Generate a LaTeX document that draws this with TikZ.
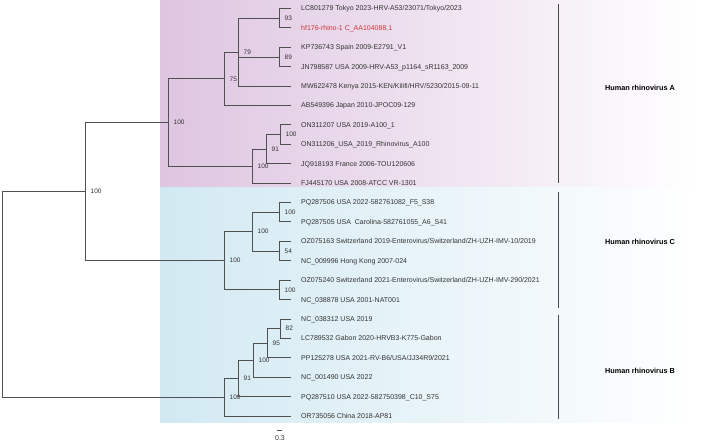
\documentclass[tikz,border=0pt]{standalone}
\usepackage{fontspec}
\setmainfont{Liberation Sans}
\definecolor{branchgray}{HTML}{505050}
\definecolor{leafgray}{HTML}{333333}
\definecolor{hfred}{HTML}{D0373B}
\definecolor{cladeApurple}{RGB}{222,197,225}
\definecolor{cladeCblue}{RGB}{210,233,242}
\tikzstyle{branch}=[draw=branchgray,line width=0.8pt]
\tikzstyle{tip}=[branch,shorten >=10pt]
\tikzstyle{leaf}=[anchor=west,inner sep=0pt,text height=5pt,text depth=0pt,font=\fontsize{7}{8}\selectfont,text=leafgray]
\tikzstyle{supp}=[anchor=west,inner sep=0pt,xshift=5.5pt,font=\fontsize{6.5}{7}\selectfont,text=leafgray]
\tikzstyle{clade}=[font=\bfseries\fontsize{7.3}{8}\selectfont,text=black]
\tikzstyle{bar}=[draw=branchgray!90!black,line width=0.8pt]

\begin{document}
\begin{tikzpicture}[x=1pt,y=-1pt]
  \useasboundingbox (0,0) rectangle (708,443);
  % clade backgrounds
  \shade[left color=cladeApurple,middle color=cladeApurple!70!white,right color=white] (160,0) rectangle (698,188);
  \shade[left color=cladeCblue,middle color=cladeCblue!70!white,right color=white] (160,188) rectangle (698,422);

  % internal nodes
  \coordinate (root) at (2,294.4);
  \coordinate (nAC) at (85,191.6);
  \coordinate (nA) at (168,122.5);
  \coordinate (n75) at (224,78.9);
  \coordinate (n79) at (238,52.2);
  \coordinate (n93) at (279,18.2);
  \coordinate (n89) at (279,57);
  \coordinate (n100b) at (252,166.1);
  \coordinate (n91a) at (266,149.2);
  \coordinate (n100c) at (280,134.6);
  \coordinate (nC) at (224,260.7);
  \coordinate (nC1) at (252,231.6);
  \coordinate (nPQ) at (279,212.2);
  \coordinate (n54) at (279,251);
  \coordinate (nOZ) at (279,289.8);
  \coordinate (nB) at (224,397.1);
  \coordinate (n91b) at (238,378.3);
  \coordinate (n100d) at (253,360.2);
  \coordinate (n95) at (267,343.2);
  \coordinate (n82) at (280,328.6);

  % support values
  \node[supp] at (nAC) {100};
  \node[supp] at (nA) {100};
  \node[supp] at (n75) {75};
  \node[supp] at (n79) {79};
  \node[supp] at (n93) {93};
  \node[supp] at (n89) {89};
  \node[supp] at (n100b) {100};
  \node[supp] at (n91a) {91};
  \node[supp] at (n100c) {100};
  \node[supp] at (nC) {100};
  \node[supp] at (nC1) {100};
  \node[supp] at (nPQ) {100};
  \node[supp] at (n54) {54};
  \node[supp] at (nOZ) {100};
  \node[supp] at (nB) {100};
  \node[supp] at (n91b) {91};
  \node[supp] at (n100d) {100};
  \node[supp] at (n95) {95};
  \node[supp] at (n82) {82};

  % leaves
  \node[leaf] (lc801279) at (301,8.5) {LC801279 Tokyo 2023-HRV-A53/23071/Tokyo/2023};
  \node[leaf,text=hfred] (hf176) at (301,27.9) {hf176-rhino-1 C\_AA104088.1};
  \node[leaf] (kp736743) at (301,47.3) {KP736743 Spain 2009-E2791\_V1};
  \node[leaf] (jn798587) at (301,66.7) {JN798587 USA 2009-HRV-A53\_p1164\_sR1163\_2009};
  \node[leaf] (mw622478) at (301,86.1) {MW622478 Kenya 2015-KEN/Kilifi/HRV/5230/2015-09-11};
  \node[leaf] (ab549396) at (301,105.5) {AB549396 Japan 2010-JPOC09-129};
  \node[leaf] (on311207) at (301,124.9) {ON311207 USA 2019-A100\_1};
  \node[leaf] (on311206) at (301,144.3) {ON311206\_USA\_2019\_Rhinovirus\_A100};
  \node[leaf] (jq918193) at (301,163.7) {JQ918193 France 2006-TOU120606};
  \node[leaf] (fj445170) at (301,183.1) {FJ445170 USA 2008-ATCC VR-1301};
  \node[leaf] (pq287506) at (301,202.5) {PQ287506 USA 2022-582761082\_F5\_S38};
  \node[leaf] (pq287505) at (301,221.9) {PQ287505 USA\ \ Carolina-582761055\_A6\_S41};
  \node[leaf] (oz075163) at (301,241.3) {OZ075163 Switzerland 2019-Enterovirus/Switzerland/ZH-UZH-IMV-10/2019};
  \node[leaf] (nc009996) at (301,260.7) {NC\_009996 Hong Kong 2007-024};
  \node[leaf] (oz075240) at (301,280.1) {OZ075240 Switzerland 2021-Enterovirus/Switzerland/ZH-UZH-IMV-290/2021};
  \node[leaf] (nc038878) at (301,299.5) {NC\_038878 USA 2001-NAT001};
  \node[leaf] (nc038312) at (301,318.9) {NC\_038312 USA 2019};
  \node[leaf] (lc789532) at (301,338.3) {LC789532 Gabon 2020-HRVB3-K775-Gabon};
  \node[leaf] (pp125278) at (301,357.7) {PP125278 USA 2021-RV-B6/USA/JJ34R9/2021};
  \node[leaf] (nc001490) at (301,377.1) {NC\_001490 USA 2022};
  \node[leaf] (pq287510) at (301,396.5) {PQ287510 USA 2022-582750398\_C10\_S75};
  \node[leaf] (or735056) at (301,415.9) {OR735056 China 2018-AP81};

  % branches
  \draw[branch] (root) |- (nAC);
  \draw[branch] (root) |- (nB);
  \draw[branch] (nAC) |- (nA);
  \draw[branch] (nAC) |- (nC);
  \draw[branch] (nA) |- (n75);
  \draw[branch] (nA) |- (n100b);
  \draw[branch] (n75) |- (n79);
  \draw[tip] (n75) |- (ab549396);
  \draw[branch] (n79) |- (n93);
  \draw[branch] (n79) |- (n89);
  \draw[tip] (n79) |- (mw622478);
  \draw[tip] (n93) |- (lc801279);
  \draw[tip] (n93) |- (hf176);
  \draw[tip] (n89) |- (kp736743);
  \draw[tip] (n89) |- (jn798587);
  \draw[branch] (n100b) |- (n91a);
  \draw[tip] (n100b) |- (fj445170);
  \draw[branch] (n91a) |- (n100c);
  \draw[tip] (n91a) |- (jq918193);
  \draw[tip] (n100c) |- (on311207);
  \draw[tip] (n100c) |- (on311206);
  \draw[branch] (nC) |- (nC1);
  \draw[branch] (nC) |- (nOZ);
  \draw[branch] (nC1) |- (nPQ);
  \draw[branch] (nC1) |- (n54);
  \draw[tip] (nPQ) |- (pq287506);
  \draw[tip] (nPQ) |- (pq287505);
  \draw[tip] (n54) |- (oz075163);
  \draw[tip] (n54) |- (nc009996);
  \draw[tip] (nOZ) |- (oz075240);
  \draw[tip] (nOZ) |- (nc038878);
  \draw[branch] (nB) |- (n91b);
  \draw[tip] (nB) |- (or735056);
  \draw[branch] (n91b) |- (n100d);
  \draw[tip] (n91b) |- (pq287510);
  \draw[branch] (n100d) |- (n95);
  \draw[tip] (n100d) |- (nc001490);
  \draw[branch] (n95) |- (n82);
  \draw[tip] (n95) |- (pp125278);
  \draw[tip] (n82) |- (nc038312);
  \draw[tip] (n82) |- (lc789532);

  % clade bars and names
  \coordinate (barAtop) at (558,4);
  \coordinate (barAbot) at (558,183);
  \coordinate (barCtop) at (558,192);
  \coordinate (barCbot) at (558,308);
  \coordinate (barBtop) at (558,315);
  \coordinate (barBbot) at (558,419);
  \draw[bar] (barAtop) -- (barAbot);
  \draw[bar] (barCtop) -- (barCbot);
  \draw[bar] (barBtop) -- (barBbot);
  \node[clade] (hrvA) at (640,88) {Human rhinovirus A};
  \node[clade] (hrvC) at (640,242) {Human rhinovirus C};
  \node[clade] (hrvB) at (640,371) {Human rhinovirus B};

  % scale bar
  \coordinate (sbl) at (277,430);
  \coordinate (sbr) at (282,430);
  \draw[branch] (sbl) -- (sbr);
  \node[font=\fontsize{7}{8}\selectfont,text=leafgray] (sbtext) at (280,438) {0.3};
\end{tikzpicture}
\end{document}
